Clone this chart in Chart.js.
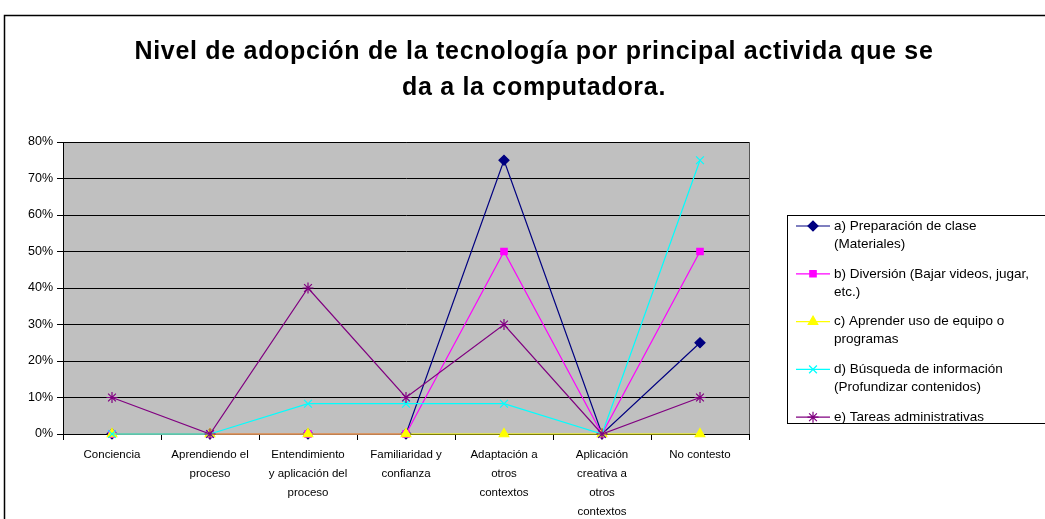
<!DOCTYPE html>
<html>
<head>
<meta charset="utf-8">
<script src="https://cdn.jsdelivr.net/npm/chart.js@4"></script>
<style>
  html, body { margin: 0; padding: 0; background: #fff; }
  #wrap { width: 1045px; height: 519px; position: relative; }
</style>
</head>
<body>
<div id="wrap"><canvas id="nivel"></canvas></div>
<script>
const categories = [
  'Conciencia',
  ['Aprendiendo el', 'proceso'],
  ['Entendimiento', 'y aplicación del', 'proceso'],
  ['Familiaridad y', 'confianza'],
  ['Adaptación a', 'otros', 'contextos'],
  ['Aplicación', 'creativa a', 'otros', 'contextos'],
  'No contesto'
];
const preparacion = [0, 0, 0, 0, 75, 0, 25];
const diversion   = [0, 0, 0, 0, 50, 0, 50];
const aprender    = [0, 0, 0, 0, 0, 0, 0];
const busqueda    = [0, 0, 8.3, 8.3, 8.3, 0, 75];
const tareas      = [10, 0, 40, 10, 30, 0, 10];
const seriesLabels = [
  ['a) Preparación de clase', '(Materiales)'],
  ['b) Diversión (Bajar videos, jugar,', 'etc.)'],
  ['c) Aprender uso de equipo o', 'programas'],
  ['d) Búsqueda de información', '(Profundizar contenidos)'],
  ['e) Tareas administrativas']
];
const yMax = 80, yStep = 10;
const titleLines = ['Nivel de adopción de la tecnología por principal activida que se', 'da a la computadora.'];

const FONT = '"Liberation Sans", Arial, sans-serif';

function ds(i, data, color, style, radius) {
  return {
    label: seriesLabels[i].join(' '),
    data: data,
    borderColor: color,
    backgroundColor: color,
    borderWidth: 1.2,
    pointStyle: style,
    pointRadius: radius,
    pointHoverRadius: radius,
    pointBorderWidth: 1.2,
    pointBackgroundColor: color,
    pointBorderColor: color,
    tension: 0,
    clip: false,
    order: 4 - i
  };
}

// frame, plot background, title and the boxed legend
const frame = {
  id: 'frame',
  beforeDraw(chart) {
    const {ctx, chartArea: a} = chart;
    ctx.save();
    ctx.fillStyle = '#fff';
    ctx.fillRect(0, 0, chart.width, chart.height);
    ctx.fillStyle = '#c0c0c0';
    ctx.fillRect(a.left, a.top, a.right - a.left, a.bottom - a.top);
    ctx.strokeStyle = '#000';
    ctx.lineWidth = 1.5;
    ctx.strokeRect(4.5, 15.5, 1200, 700);
    ctx.strokeStyle = '#555';
    ctx.lineWidth = 1;
    ctx.strokeRect(a.left + 0.5, a.top + 0.5, a.right - a.left, a.bottom - a.top);

    ctx.fillStyle = '#000';
    ctx.font = 'bold 25px ' + FONT;
    ctx.textAlign = 'center';
    ctx.textBaseline = 'middle';
    if ('letterSpacing' in ctx) ctx.letterSpacing = '0.7px';
    titleLines.forEach((t, k) => ctx.fillText(t, 534, 52 + k * 36));
    ctx.restore();
  },
  afterDraw(chart) {
    const ctx = chart.ctx;
    const bx = 787.5, by = 215.5;
    ctx.save();
    ctx.fillStyle = '#fff';
    ctx.fillRect(bx, by, 400, 208);
    ctx.strokeStyle = '#000';
    ctx.lineWidth = 1;
    ctx.strokeRect(bx, by, 400, 208);
    ctx.font = '13.5px ' + FONT;
    ctx.textBaseline = 'middle';
    ctx.textAlign = 'left';
    chart.data.datasets.forEach((d, i) => {
      const y = 226 + i * 47.8;
      ctx.strokeStyle = d.borderColor;
      ctx.lineWidth = 1.2;
      ctx.beginPath();
      ctx.moveTo(796, y);
      ctx.lineTo(830, y);
      ctx.stroke();
      ctx.fillStyle = d.pointBackgroundColor;
      ctx.strokeStyle = d.pointBorderColor;
      Chart.helpers.drawPoint(ctx, {pointStyle: d.pointStyle, radius: d.pointRadius, rotation: 0, borderWidth: 1.2}, 813, y);
      ctx.fillStyle = '#000';
      seriesLabels[i].forEach((t, k) => ctx.fillText(t, 834, y + k * 18));
    });
    ctx.restore();
  }
};

new Chart(document.getElementById('nivel'), {
  type: 'line',
  data: {
    labels: categories,
    datasets: [
      ds(0, preparacion, '#000080', 'rectRot', 5),
      ds(1, diversion, '#ff00ff', 'rect', 4.5),
      ds(2, aprender, '#ffff00', 'triangle', 5.5),
      ds(3, busqueda, '#00ffff', 'crossRot', 5.5),
      ds(4, tareas, '#800080', 'star', 5.5)
    ]
  },
  plugins: [frame],
  options: {
    responsive: true,
    maintainAspectRatio: false,
    animation: false,
    layout: { padding: { left: 0, right: 0, top: 142, bottom: 0 } },
    scales: {
      x: {
        offset: true,
        grid: { offset: true, drawOnChartArea: false, drawTicks: true, tickLength: 6, color: '#000' },
        border: { display: true, color: '#000', width: 1 },
        ticks: {
          color: '#000',
          maxRotation: 0,
          autoSkip: false,
          padding: 5,
          font: { family: FONT, size: 11.5, lineHeight: 19 / 11.5 }
        },
        afterFit(s) { s.height = 85; }
      },
      y: {
        min: 0,
        max: yMax,
        grid: { color: '#000', lineWidth: 1, tickLength: 6, drawTicks: true },
        border: { display: true, color: '#000', width: 1 },
        ticks: {
          stepSize: yStep,
          color: '#000',
          padding: 4,
          font: { family: FONT, size: 12.5 },
          callback: v => v + '%'
        },
        afterFit(s) { s.width = 63; }
      },
      yRight: {
        position: 'right',
        display: true,
        grid: { display: false },
        border: { display: false },
        ticks: { display: false },
        afterFit(s) { s.width = 296; }
      }
    },
    plugins: {
      legend: { display: false },
      tooltip: { enabled: false },
      title: { display: false }
    }
  }
});
</script>
</body>
</html>
